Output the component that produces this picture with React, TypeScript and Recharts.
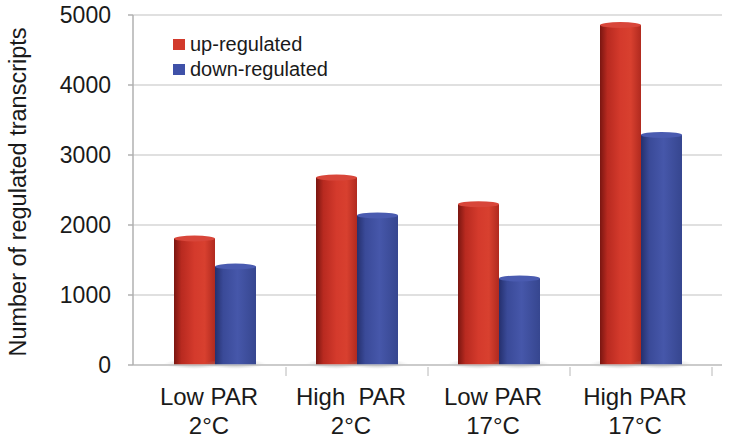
import React from "react";
import { BarChart, Bar, XAxis, YAxis, CartesianGrid, Legend } from "recharts";

const conditions = ["Low PAR", "High  PAR", "Low PAR", "High PAR"];
const temperatures = ["2°C", "2°C", "17°C", "17°C"];
const upRegulated = [1850, 2720, 2340, 4900];
const downRegulated = [1450, 2180, 1280, 3330];
const yTicks = [0, 1000, 2000, 3000, 4000, 5000];
const seriesOrder = ["up", "down"];

const data = conditions.map((c, i) => ({
  group: `${c}|${temperatures[i]}`,
  up: upRegulated[i],
  down: downRegulated[i],
}));

const FONT = "'Liberation Sans', Arial, sans-serif";

function Cylinder(props: any) {
  const { x, y, width, height, grad, top } = props;
  if (!height || height <= 0) return null;
  const ry = 3;
  return (
    <g>
      <ellipse cx={x + width / 2} cy={y + height - 1} rx={width * 0.75} ry={5} fill="url(#shadowGrad)" />
      <rect x={x} y={y + ry} width={width} height={height - ry} fill={`url(#${grad})`} />
      <ellipse cx={x + width / 2} cy={y + ry} rx={width / 2} ry={ry} fill={top} />
    </g>
  );
}

function CategoryTick(props: any) {
  const { x, y, payload } = props;
  const [line1, line2] = String(payload.value).split("|");
  return (
    <g transform={`translate(${x},${y})`}>
      <line x1={71} x2={71} y1={-6} y2={3} stroke="#b8b8b8" />
      <text
        textAnchor="middle"
        fontFamily={FONT}
        fontSize={24}
        fill="#1a1a1a"
        style={{ whiteSpace: "pre" }}
      >
        <tspan x={-6} dy={32}>{line1}</tspan>
        <tspan x={-6} dy={29}>{line2}</tspan>
      </text>
    </g>
  );
}

function YLabel(props: any) {
  const { viewBox } = props;
  const cx = viewBox.x + 18;
  const cy = viewBox.y + viewBox.height / 2 + 2;
  return (
    <text
      x={cx}
      y={cy}
      transform={`rotate(-90 ${cx} ${cy})`}
      textAnchor="middle"
      dominantBaseline="central"
      fontFamily={FONT}
      fontSize={23.5}
      fill="#1a1a1a"
    >
      Number of regulated transcripts
    </text>
  );
}

const legendColors: Record<string, string> = { up: "#d23a2c", down: "#3f51a8" };

function LegendBox(props: any) {
  const items = [...(props.payload || [])].sort(
    (a: any, b: any) => seriesOrder.indexOf(a.dataKey) - seriesOrder.indexOf(b.dataKey)
  );
  return (
    <div style={{ fontFamily: FONT, fontSize: 20, color: "#1a1a1a" }}>
      {items.map((entry: any) => (
        <div key={entry.value} style={{ display: "flex", alignItems: "center", height: 25 }}>
          <span
            style={{
              display: "inline-block",
              width: 12,
              height: 11,
              marginRight: 5,
              background: legendColors[entry.dataKey] || entry.color,
            }}
          />
          {entry.value}
        </div>
      ))}
    </div>
  );
}

export default function App() {
  return (
    <div style={{ position: "absolute", left: 0, top: 0, width: 730, height: 442, background: "#fff" }}>
      <BarChart
        width={730}
        height={442}
        data={data}
        margin={{ top: 15, right: 8, bottom: 0, left: 0 }}
        barGap={0}
      >
        <defs>
          <linearGradient id="redGrad" x1="0" y1="0" x2="1" y2="0">
            <stop offset="0%" stopColor="#7a1611" />
            <stop offset="18%" stopColor="#b82a20" />
            <stop offset="50%" stopColor="#d43a2c" />
            <stop offset="75%" stopColor="#d8402f" />
            <stop offset="100%" stopColor="#b02a1f" />
          </linearGradient>
          <linearGradient id="blueGrad" x1="0" y1="0" x2="1" y2="0">
            <stop offset="0%" stopColor="#25306e" />
            <stop offset="20%" stopColor="#3a4a98" />
            <stop offset="55%" stopColor="#4657aa" />
            <stop offset="100%" stopColor="#36468f" />
          </linearGradient>
          <radialGradient id="shadowGrad">
            <stop offset="0%" stopColor="#8a8a8a" stopOpacity={0.7} />
            <stop offset="100%" stopColor="#bbbbbb" stopOpacity={0} />
          </radialGradient>
        </defs>
        <CartesianGrid vertical={false} stroke="#d6d6d6" strokeWidth={1.5} />
        <XAxis
          dataKey="group"
          height={77}
          padding={{ left: 11, right: 10 }}
          tickLine={false}
          axisLine={{ stroke: "#c4c4c4", strokeWidth: 1.5 }}
          tick={<CategoryTick />}
          interval={0}
        />
        <YAxis
          width={133}
          domain={[0, 5000]}
          ticks={yTicks}
          interval={0}
          tickSize={5}
          tickMargin={17}
          axisLine={{ stroke: "#b0b0b0", strokeWidth: 1.5 }}
          tickLine={{ stroke: "#b0b0b0", strokeWidth: 1.5 }}
          tick={{ fill: "#1a1a1a", fontSize: 23, fontFamily: FONT }}
          label={<YLabel />}
        />
        <Legend
          verticalAlign="middle"
          align="center"
          layout="vertical"
          content={<LegendBox />}
          wrapperStyle={{ position: "absolute", left: 173, top: 32, width: 200 }}
        />
        <Bar
          dataKey="up"
          name="up-regulated"
          fill="#d23a2c"
          barSize={41}
          isAnimationActive={false}
          shape={(p: any) => <Cylinder {...p} grad="redGrad" top="#d8463a" />}
        />
        <Bar
          dataKey="down"
          name="down-regulated"
          fill="#3f51a8"
          barSize={41}
          isAnimationActive={false}
          shape={(p: any) => <Cylinder {...p} grad="blueGrad" top="#4a5bb0" />}
        />
      </BarChart>
    </div>
  );
}
